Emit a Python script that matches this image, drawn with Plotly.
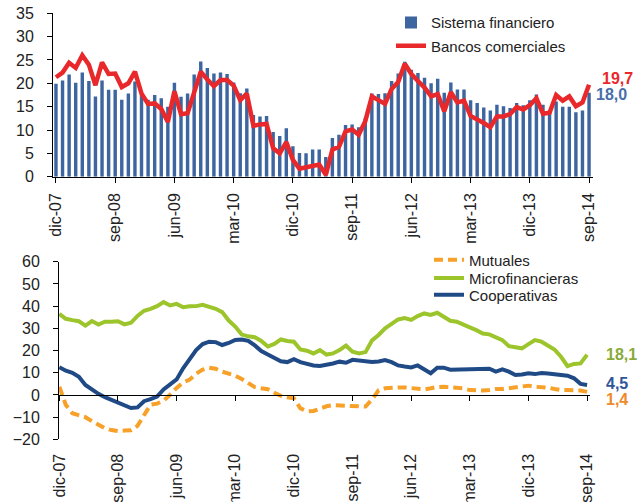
import plotly.graph_objects as go

# ---------------- data ----------------
mes_abbr = ["ene", "feb", "mar", "abr", "may", "jun", "jul", "ago", "sep", "oct", "nov", "dic"]
months = []
y, m = 2007, 11
for _ in range(82):
    months.append(f"{mes_abbr[m]}-{str(y)[2:]}")
    m += 1
    if m == 12:
        m = 0
        y += 1

tick_labels = ["dic-07", "sep-08", "jun-09", "mar-10", "dic-10",
               "sep-11", "jun-12", "mar-13", "dic-13", "sep-14"]

sistema_financiero = [
    19.9, 20.6, 21.9, 20.1, 22.3, 20.5, 17.2, 20.6, 18.6, 18.6,
    16.5, 17.8, 20.4, 17.5, 16.5, 17.5, 16.8, 15.0, 20.1, 17.1,
    17.8, 21.9, 24.7, 23.3, 22.1, 22.3, 22.0, 20.2, 17.9, 18.9,
    13.2, 12.9, 13.0, 9.6, 8.7, 10.4, 6.5, 5.1, 5.0, 5.8,
    5.8, 4.2, 8.3, 9.0, 11.1, 11.2, 10.6, 12.5, 17.8, 17.7,
    17.9, 20.5, 22.1, 24.6, 22.9, 22.2, 21.2, 20.0, 21.0, 18.0,
    20.2, 18.7, 18.7, 16.4, 15.8, 14.8, 14.2, 15.4, 15.1, 14.7,
    15.8, 15.3, 16.4, 17.6, 15.4, 13.7, 16.1, 15.0, 15.0, 13.8,
    14.2, 18.0]

bancos_comerciales = [
    21.3, 22.3, 24.4, 23.3, 26.0, 24.0, 19.6, 24.5, 22.0, 22.1,
    19.2, 20.0, 22.5, 17.8, 15.6, 15.7, 14.5, 11.7, 18.3, 13.4,
    13.6, 18.0, 22.5, 20.8, 19.4, 20.7, 20.7, 19.5, 16.4, 17.8,
    10.9, 11.2, 11.3, 6.1, 5.0, 7.4, 3.6, 1.7, 2.0, 2.4,
    2.6, 0.4, 5.8, 6.4, 9.7, 10.1, 9.0, 11.9, 17.2, 16.4,
    15.6, 18.8, 20.3, 24.2, 22.0, 20.5, 19.1, 17.2, 17.7, 14.0,
    18.1, 15.9, 16.3, 13.0, 12.3, 11.5, 10.6, 12.9, 12.9, 13.4,
    14.9, 14.4, 15.3, 16.8, 13.5, 13.7, 17.5, 16.3, 17.2, 15.1,
    15.9, 19.7]

mutuales = [
    3.7, -4.5, -8.2, -9.3, -10.0, -11.8, -13.6, -15.0, -15.8, -16.2,
    -16.0, -15.9, -13.9, -9.4, -4.4, -3.9, -2.6, 0.1, 3.2, 5.6,
    6.9, 9.6, 11.4, 12.3, 11.8, 10.5, 9.8, 8.7, 7.2, 5.5,
    3.5, 3.0, 2.6, 1.0, -0.4, -1.0, -1.5, -6.0, -7.3, -7.2,
    -6.0, -5.1, -4.6, -4.7, -5.0, -5.2, -5.2, -5.2, -2.0, 2.1,
    3.0, 3.4, 3.4, 3.4, 3.1, 2.5, 2.5, 3.0, 3.6, 3.7,
    3.4, 3.4, 3.0, 2.2, 2.0, 2.0, 2.2, 2.7, 2.7, 3.0,
    3.4, 3.7, 4.2, 3.7, 3.7, 3.3, 2.7, 2.2, 2.2, 2.2,
    2.0, 1.4]

microfinancieras = [
    36.5, 34.3, 33.7, 33.2, 31.2, 33.3, 31.7, 33.0, 33.0, 33.2,
    31.8, 32.5, 35.6, 37.9, 38.8, 40.0, 41.8, 40.3, 41.0, 39.5,
    39.9, 40.0, 40.6, 39.8, 38.8, 37.3, 33.5, 30.8, 27.2, 26.4,
    26.0, 24.3, 21.8, 23.0, 25.0, 24.3, 24.0, 20.5, 19.9, 18.7,
    20.2, 18.2, 18.7, 20.2, 22.2, 19.5, 18.7, 19.3, 24.6, 27.0,
    30.0, 32.0, 34.0, 34.6, 33.8, 35.5, 36.7, 36.0, 37.0, 35.2,
    33.4, 33.0, 31.5, 30.4, 29.2, 27.7, 27.3, 25.8, 24.7, 22.0,
    21.7, 21.0, 22.9, 24.7, 24.0, 22.5, 20.5, 17.2, 13.0, 14.0,
    14.2, 18.1]

cooperativas = [
    12.5, 10.9, 10.0, 8.2, 4.5, 2.4, 0.5, -1.0, -2.2, -3.4,
    -4.8, -5.9, -5.6, -2.8, -1.9, -0.7, 2.5, 5.0, 7.0, 12.0,
    16.5, 20.2, 22.9, 24.0, 23.8, 22.5, 23.4, 24.8, 25.0, 24.4,
    22.3, 19.8, 18.2, 16.7, 15.2, 14.8, 16.1, 14.8, 13.9, 13.3,
    13.1, 13.5, 14.2, 15.0, 14.5, 15.8, 15.5, 14.8, 14.8, 15.1,
    15.7, 14.8, 13.3, 12.8, 12.4, 13.3, 11.5, 9.8, 12.3, 12.3,
    11.4, 11.5, 11.5, 11.5, 11.8, 11.8, 11.8, 10.5, 11.5, 10.5,
    9.0, 9.2, 9.8, 9.4, 9.9, 9.7, 9.3, 9.0, 8.7, 7.5,
    5.0, 4.5]

# ---------------- styling ----------------
W, H = 642, 502
FONT = "Liberation Sans, Arial, sans-serif"
C_BAR = "#3D65A0"
C_RED = "#E8282B"
C_ORANGE = "#F7A128"
C_GREEN = "#9CC42B"
C_BLUE = "#1F4A86"

def px_x(p):
    return p / W

def px_y(p):
    return 1 - p / H

top_dom_y = [px_y(176.7), px_y(13.3)]
bot_dom_y = [px_y(439.4), px_y(261.7)]
bot_range = [-20, 60]
zero_pos = bot_dom_y[0] + (0 - bot_range[0]) / (bot_range[1] - bot_range[0]) * (bot_dom_y[1] - bot_dom_y[0])

fig = go.Figure()

fig.add_trace(go.Bar(x=months, y=sistema_financiero, name="Sistema financiero",
                     marker=dict(color=C_BAR, line=dict(width=0)), width=0.52,
                     xaxis="x", yaxis="y", legend="legend"))
fig.add_trace(go.Scatter(x=months, y=bancos_comerciales, name="Bancos comerciales",
                         mode="lines", line=dict(color=C_RED, width=4.5),
                         xaxis="x", yaxis="y", legend="legend2"))

fig.add_trace(go.Scatter(x=months, y=mutuales, name="Mutuales", mode="lines",
                         line=dict(color=C_ORANGE, width=4, dash="9px,5px"),
                         xaxis="x2", yaxis="y2", legend="legend3"))
fig.add_trace(go.Scatter(x=months, y=microfinancieras, name="Microfinancieras", mode="lines",
                         line=dict(color=C_GREEN, width=4),
                         xaxis="x2", yaxis="y2", legend="legend4"))
fig.add_trace(go.Scatter(x=months, y=cooperativas, name="Cooperativas", mode="lines",
                         line=dict(color=C_BLUE, width=4),
                         xaxis="x2", yaxis="y2", legend="legend5"))
# invisible trace to carry the zero-line axis (x3)
fig.add_trace(go.Scatter(x=months, y=cooperativas, mode="lines", opacity=0,
                         line=dict(width=0), showlegend=False, hoverinfo="skip",
                         xaxis="x3", yaxis="y2"))

tickvals = [months[i] for i in range(0, 82, 9)]

axis_common = dict(showgrid=False, zeroline=False, linecolor="#000000", linewidth=1,
                   tickcolor="#000000", automargin=False,
                   tickfont=dict(family=FONT, size=16, color="#222222"))

fig.update_layout(
    width=W, height=H, autosize=False,
    margin=dict(l=0, r=0, t=0, b=0, pad=0, autoexpand=False),
    paper_bgcolor="white", plot_bgcolor="white",
    font=dict(family=FONT, color="#222222"),
    bargap=0.4,
    xaxis=dict(domain=[px_x(53), px_x(593)], anchor="y", type="category",
               range=[-0.45, 81.6], tickvals=tickvals, ticktext=tick_labels,
               showline=True, ticks="outside", ticklen=5, tickangle=-90,
               ticklabelstandoff=4, **axis_common),
    yaxis=dict(domain=top_dom_y, anchor="x", range=[0, 35], dtick=5,
               showline=True, ticks="outside", ticklen=5, ticklabelstandoff=10,
               **axis_common),
    xaxis2=dict(domain=[px_x(59), px_x(590)], anchor="y2", type="category",
                range=[-0.05, 81.45], tickvals=tickvals, ticktext=tick_labels,
                showline=False, ticks="outside", ticklen=5, tickangle=-90,
                ticklabelstandoff=2,
                **{**axis_common, "tickcolor": "rgba(0,0,0,0)"}),
    xaxis3=dict(overlaying="x2", anchor="free", position=zero_pos, type="category",
                range=[-0.05, 81.45], tickvals=tickvals, showticklabels=False,
                showline=True, ticks="outside", ticklen=5, **axis_common),
    yaxis2=dict(domain=bot_dom_y, anchor="x2", range=bot_range, dtick=10,
                showline=True, ticks="outside", ticklen=5, ticklabelstandoff=10,
                **axis_common),
)

leg_common = dict(bgcolor="rgba(0,0,0,0)", borderwidth=0, xanchor="left", yanchor="middle",
                  font=dict(family=FONT, size=15, color="#222222"))
fig.update_layout(
    legend=dict(x=px_x(391), y=px_y(22.7), **leg_common),
    legend2=dict(x=px_x(391), y=px_y(46), **leg_common),
    legend3=dict(x=px_x(429), y=px_y(260), **leg_common),
    legend4=dict(x=px_x(429), y=px_y(278.3), **leg_common),
    legend5=dict(x=px_x(429), y=px_y(295), **leg_common),
)

def end_label(xref, yref, value, text, color, xshift, yshift):
    fig.add_annotation(x=months[-1], y=value, xref=xref, yref=yref, text=f"<b>{text}</b>",
                       showarrow=False, xanchor="left", yanchor="middle",
                       xshift=xshift, yshift=yshift,
                       font=dict(family=FONT, size=16, color=color))

end_label("x", "y", bancos_comerciales[-1], "19,7", C_RED, 11, 6)
end_label("x", "y", sistema_financiero[-1], "18,0", "#4A6EA8", 5, -2)
end_label("x2", "y2", microfinancieras[-1], "18,1", "#8AAA38", 17, 0)
end_label("x2", "y2", cooperativas[-1], "4,5", "#2F5597", 17, 1)
end_label("x2", "y2", mutuales[-1], "1,4", "#EE8A2A", 17, -8)

fig.write_html("out.html",
               config={"displayModeBar": False, "staticPlot": True},
               post_script="document.body.style.margin='0';document.body.style.overflow='hidden';")
